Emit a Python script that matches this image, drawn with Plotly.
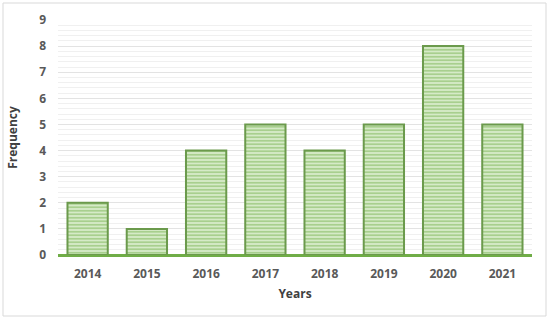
import plotly.graph_objects as go

years = ["2014", "2015", "2016", "2017", "2018", "2019", "2020", "2021"]
frequency = [2, 1, 4, 5, 4, 5, 8, 5]

W, H = 550, 321
ml, mr, mt, mb = 58, 18, 20, 66
pw, ph = W - ml - mr, H - mt - mb

fig = go.Figure()
fig.add_trace(go.Bar(
    x=years,
    y=frequency,
    marker=dict(
        color="#c5e0b4",
        line=dict(color="#6b9a4c", width=2),
        pattern=dict(shape="-", fgcolor="#7cb356", bgcolor="#d5eac7", size=3.5, solidity=0.5),
    ),
    showlegend=False,
))

tick_font = dict(family="Open Sans", size=12, color="#595959")

fig.update_layout(
    width=W, height=H,
    margin=dict(l=ml, r=mr, t=mt, b=mb, autoexpand=False),
    plot_bgcolor="white",
    paper_bgcolor="white",
    bargap=0.32,
    xaxis=dict(
        title=dict(text="<b>Years</b>", font=dict(family="Open Sans", size=12, color="#404040"), standoff=8),
        tickfont=tick_font,
        tickprefix="<b>", ticksuffix="</b>",
        showgrid=False,
        showline=False,
        ticks="",
        ticklabelstandoff=10,
        automargin=False,
    ),
    yaxis=dict(
        title=dict(text="<b>Frequency</b>", font=dict(family="Open Sans", size=12, color="#404040"), standoff=18),
        tickfont=tick_font,
        tickprefix="<b>", ticksuffix="</b>",
        range=[0, 9],
        dtick=1,
        showgrid=True,
        gridcolor="#e3e3e3",
        gridwidth=1,
        minor=dict(dtick=0.2, showgrid=True, gridcolor="#f0f0f0", gridwidth=1),
        zeroline=True,
        zerolinecolor="#70ad47",
        zerolinewidth=2.5,
        ticks="",
        ticklabelstandoff=11,
        automargin=False,
    ),
    shapes=[dict(
        type="rect", xref="paper", yref="paper",
        x0=-(ml - 3) / pw, x1=1 + (mr - 4) / pw,
        y0=-(mb - 5) / ph, y1=1 + (mt - 3) / ph,
        line=dict(color="#d9d9d9", width=1),
        fillcolor="rgba(0,0,0,0)",
        layer="below",
    )],
)

# drop the browser's default body margin so the figure sits at the page corner
fig.write_html("out.html", config={"displayModeBar": False},
               post_script="document.body.style.margin='0';")
